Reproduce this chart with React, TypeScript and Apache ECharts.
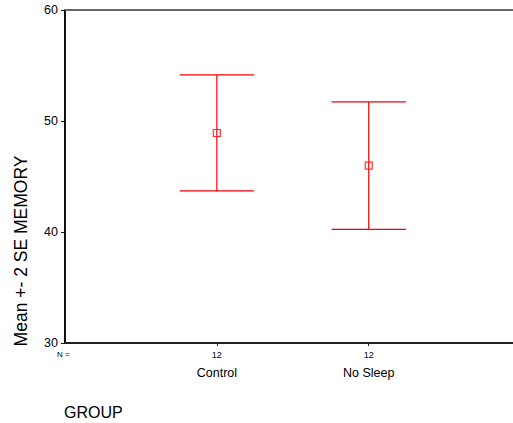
import React, { useEffect, useRef } from "react";
import * as echarts from "echarts";

const categories = ["Control", "No Sleep"];
const nCounts = [12, 12];
const means = [48.92, 45.98];
const lowers = [43.7, 40.24];
const uppers = [54.15, 51.73];
const yTicks = [30, 40, 50, 60];

const RED = "#ff0000";
const FONT = "'Liberation Sans', Arial, sans-serif";

export default function App() {
  const ref = useRef<HTMLDivElement>(null);
  useEffect(() => {
    if (!ref.current) return;
    const chart = echarts.init(ref.current, null, { renderer: "svg" });
    const positions = categories.map((_, i) => i + 1);
    const barData = positions.map((p, i) => [p, lowers[i], uppers[i]]);
    const meanData = positions.map((p, i) => [p, means[i]]);
    chart.setOption({
      animation: false,
      backgroundColor: "#fff",
      textStyle: { fontFamily: FONT },
      grid: { left: 65, right: 0, top: 10, bottom: 80 },
      xAxis: [
        {
          type: "value",
          position: "bottom",
          min: 0,
          max: 2.95,
          interval: 1,
          splitLine: { show: false },
          axisLine: { show: true, lineStyle: { color: "#222", width: 2 } },
          axisTick: { show: true, length: 3, customValues: positions, lineStyle: { color: "#222" } },
          axisLabel: {
            show: true,
            customValues: positions,
            margin: 5,
            color: "#000",
            formatter: (v: number) => {
              const i = Math.round(v) - 1;
              if (i < 0 || i >= categories.length) return "";
              return `{n|${nCounts[i]}}\n{c|${categories[i]}}`;
            },
            rich: {
              n: { fontSize: 9, lineHeight: 14, color: "#000", fontFamily: FONT },
              c: { fontSize: 12.5, lineHeight: 22, color: "#000", fontFamily: FONT },
            },
          },
        },
        {
          type: "value",
          position: "top",
          min: 0,
          max: 2.95,
          splitLine: { show: false },
          axisLine: { show: true, lineStyle: { color: "#666", width: 2 } },
          axisTick: { show: false },
          axisLabel: { show: false },
        },
      ],
      yAxis: {
        type: "value",
        min: yTicks[0],
        max: yTicks[yTicks.length - 1],
        interval: 10,
        splitLine: { show: false },
        axisLine: { show: true, lineStyle: { color: "#111", width: 2 } },
        axisTick: { show: true, length: 4, lineStyle: { color: "#111" } },
        axisLabel: { margin: 7, fontSize: 12.5, color: "#000", fontFamily: FONT },
      },
      series: [
        {
          type: "custom",
          data: barData,
          renderItem: (params: any, api: any) => {
            const x = api.value(0);
            const lo = api.value(1);
            const hi = api.value(2);
            const top = api.coord([x, hi]);
            const bot = api.coord([x, lo]);
            const tl = api.coord([x - 0.245, hi]);
            const tr = api.coord([x + 0.245, hi]);
            const bl = api.coord([x - 0.245, lo]);
            const br = api.coord([x + 0.245, lo]);
            const st = { stroke: RED, lineWidth: 1.2 };
            return {
              type: "group",
              children: [
                { type: "line", shape: { x1: top[0], y1: top[1], x2: bot[0], y2: bot[1] }, style: st },
                { type: "line", shape: { x1: tl[0], y1: tl[1], x2: tr[0], y2: tr[1] }, style: st },
                { type: "line", shape: { x1: bl[0], y1: bl[1], x2: br[0], y2: br[1] }, style: st },
              ],
            };
          },
          z: 2,
        },
        {
          type: "scatter",
          data: meanData,
          symbol: "rect",
          symbolSize: 7,
          itemStyle: { color: "rgba(0,0,0,0)", borderColor: RED, borderWidth: 1.2 },
          z: 3,
        },
      ],
      graphic: [
        {
          type: "text",
          left: 57,
          top: 350,
          style: { text: "N =", fontSize: 8, fill: "#000", fontFamily: FONT },
        },
        {
          type: "text",
          left: 64,
          top: 404,
          style: { text: "GROUP", fontSize: 16, fill: "#000", fontFamily: FONT },
        },
        {
          type: "text",
          x: 21,
          y: 251,
          rotation: Math.PI / 2,
          style: {
            text: "Mean +- 2 SE MEMORY",
            fontSize: 17.5,
            fill: "#000",
            fontFamily: FONT,
            align: "center",
            verticalAlign: "middle",
          },
        },
      ],
    });
    return () => chart.dispose();
  }, []);
  return (
    <div
      ref={ref}
      style={{ position: "fixed", left: 0, top: 0, width: 513, height: 423 }}
    />
  );
}
